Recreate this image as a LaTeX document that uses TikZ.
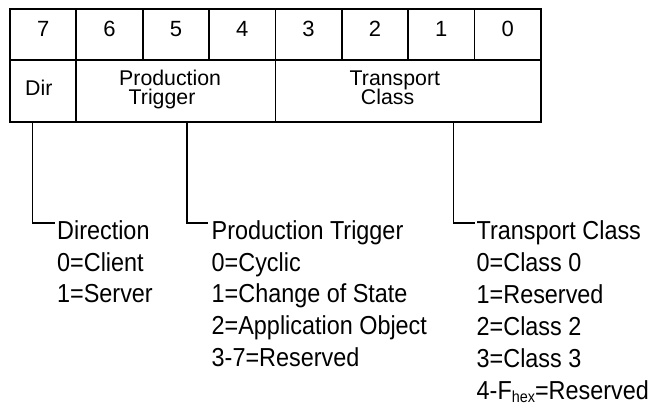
\documentclass[tikz,border=0pt]{standalone}
\usepackage{fontspec}
\setmainfont{Liberation Sans}
\newfontfamily\condfont[FakeStretch=0.9]{Liberation Sans}
\begin{document}
\begin{tikzpicture}[x=1pt,y=-1pt,
  cell/.style={draw,line width=1.8pt,inner sep=0pt,outer sep=0pt,minimum width=66.35pt,minimum height=50.7pt},
  field/.style={draw,line width=1.8pt,inner sep=0pt,outer sep=0pt,minimum height=61.7pt},
  digit/.style={inner sep=0pt,anchor=base,font=\fontsize{22}{26}\selectfont},
  flabel/.style={inner sep=0pt,anchor=base west,text height=15.5pt,text depth=0pt,font=\fontsize{21.3}{24}\selectfont},
  desc/.style={inner sep=0pt,anchor=base west,font=\condfont\fontsize{26}{31.7}\selectfont},
  conn/.style={line width=1.6pt}]
\useasboundingbox (0,0) rectangle (653,405);
% bit cells
\foreach \b [count=\i from 0] in {7,6,5,4,3,2,1,0} {
  \node[cell] (b\b) at ({10+66.35*(\i+0.5)},34.65) {};
  \node[digit] (d\b) at ({10+66.35*(\i+0.5)},36.9) {\b};
}
% fields
\node[field,minimum width=66.35pt] (dir) at (43.175,90.85) {};
\node[field,minimum width=199.05pt] (pt) at (175.875,90.85) {};
\node[field,minimum width=265.4pt] (tc) at (408.1,90.85) {};
\node[flabel] (dirl) at (25,95) {Dir};
\node[flabel] (ptl1) at (119,85) {Production};
\node[flabel,text depth=4.5pt] (ptl2) at (128.5,104) {Trigger};
\node[flabel] (tcl1) at (349.5,85) {Transport};
\node[flabel] (tcl2) at (360.7,104) {Class};
% connectors
\coordinate (s1) at (32.3,121.7);
\coordinate (e1) at (55,222.7);
\coordinate (s2) at (186.7,121.7);
\coordinate (e2) at (208,222.7);
\coordinate (s3) at (453.3,121.7);
\coordinate (e3) at (475,222.7);
\draw[conn] (s1) |- (e1);
\draw[conn] (s2) |- (e2);
\draw[conn] (s3) |- (e3);
% descriptions
\foreach \t [count=\k from 0] in {Direction,0=Client,1=Server}
  \node[desc] (da\k) at (57,{239.3+31.7*\k}) {\t};
\foreach \t [count=\k from 0] in {Production Trigger,0=Cyclic,1=Change of State,2=Application Object,3-7=Reserved}
  \node[desc] (db\k) at (211.5,{239.3+31.7*\k}) {\t};
\foreach \t [count=\k from 0] in {Transport Class,0=Class 0,1=Reserved,2=Class 2,3=Class 3}
  \node[desc] (dc\k) at (476.5,{239.3+32.1*\k}) {\t};
\node[desc] (dc5) at (476.5,399.3) {4-F\raisebox{-3.5pt}{\fontsize{16}{18}\selectfont hex}=Reserved};
\end{tikzpicture}
\end{document}
